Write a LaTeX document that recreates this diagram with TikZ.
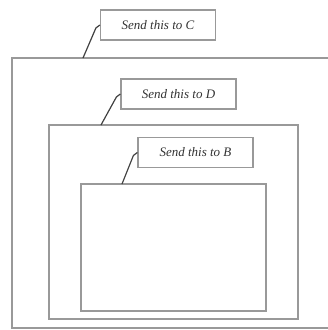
\documentclass[tikz,border=0pt]{standalone}
\usepackage{fontspec}
\setmainfont{Liberation Serif}
\usetikzlibrary{calc}
\begin{document}
\begin{tikzpicture}[x=1pt,y=-1pt,
  frame/.style={draw=black!40,line width=1.2pt},
  tag/.style={draw=black!40,line width=1.2pt,fill=white,minimum width=115pt,minimum height=30pt,inner sep=0pt,font=\itshape\fontsize{13}{15}\selectfont,text=black!80},
  lead/.style={draw=black!75,line width=1.2pt}]
\useasboundingbox (0,0) rectangle (328,330);
% nested envelopes
\draw[frame] (12,58) rectangle (340,328);
\draw[frame] (49,125) rectangle (298,319);
\draw[frame] (81,184) rectangle (266,311);
% address tags
\node[tag] (tc) at (158,25) {Send this to C};
\node[tag] (td) at (178.5,94) {Send this to D};
\node[tag] (tb) at (195.5,152.5) {Send this to B};
% attachment points on the envelope edges
\coordinate (pc) at (83,58);
\coordinate (pd) at (101,125);
\coordinate (pb) at (122,184);
\draw[lead] (pc) -- ($(tc.west)+(-4,3)$) -- (tc.west);
\draw[lead] (pd) -- ($(td.west)+(-4,3)$) -- (td.west);
\draw[lead] (pb) -- ($(tb.west)+(-4,3)$) -- (tb.west);
\end{tikzpicture}
\end{document}
